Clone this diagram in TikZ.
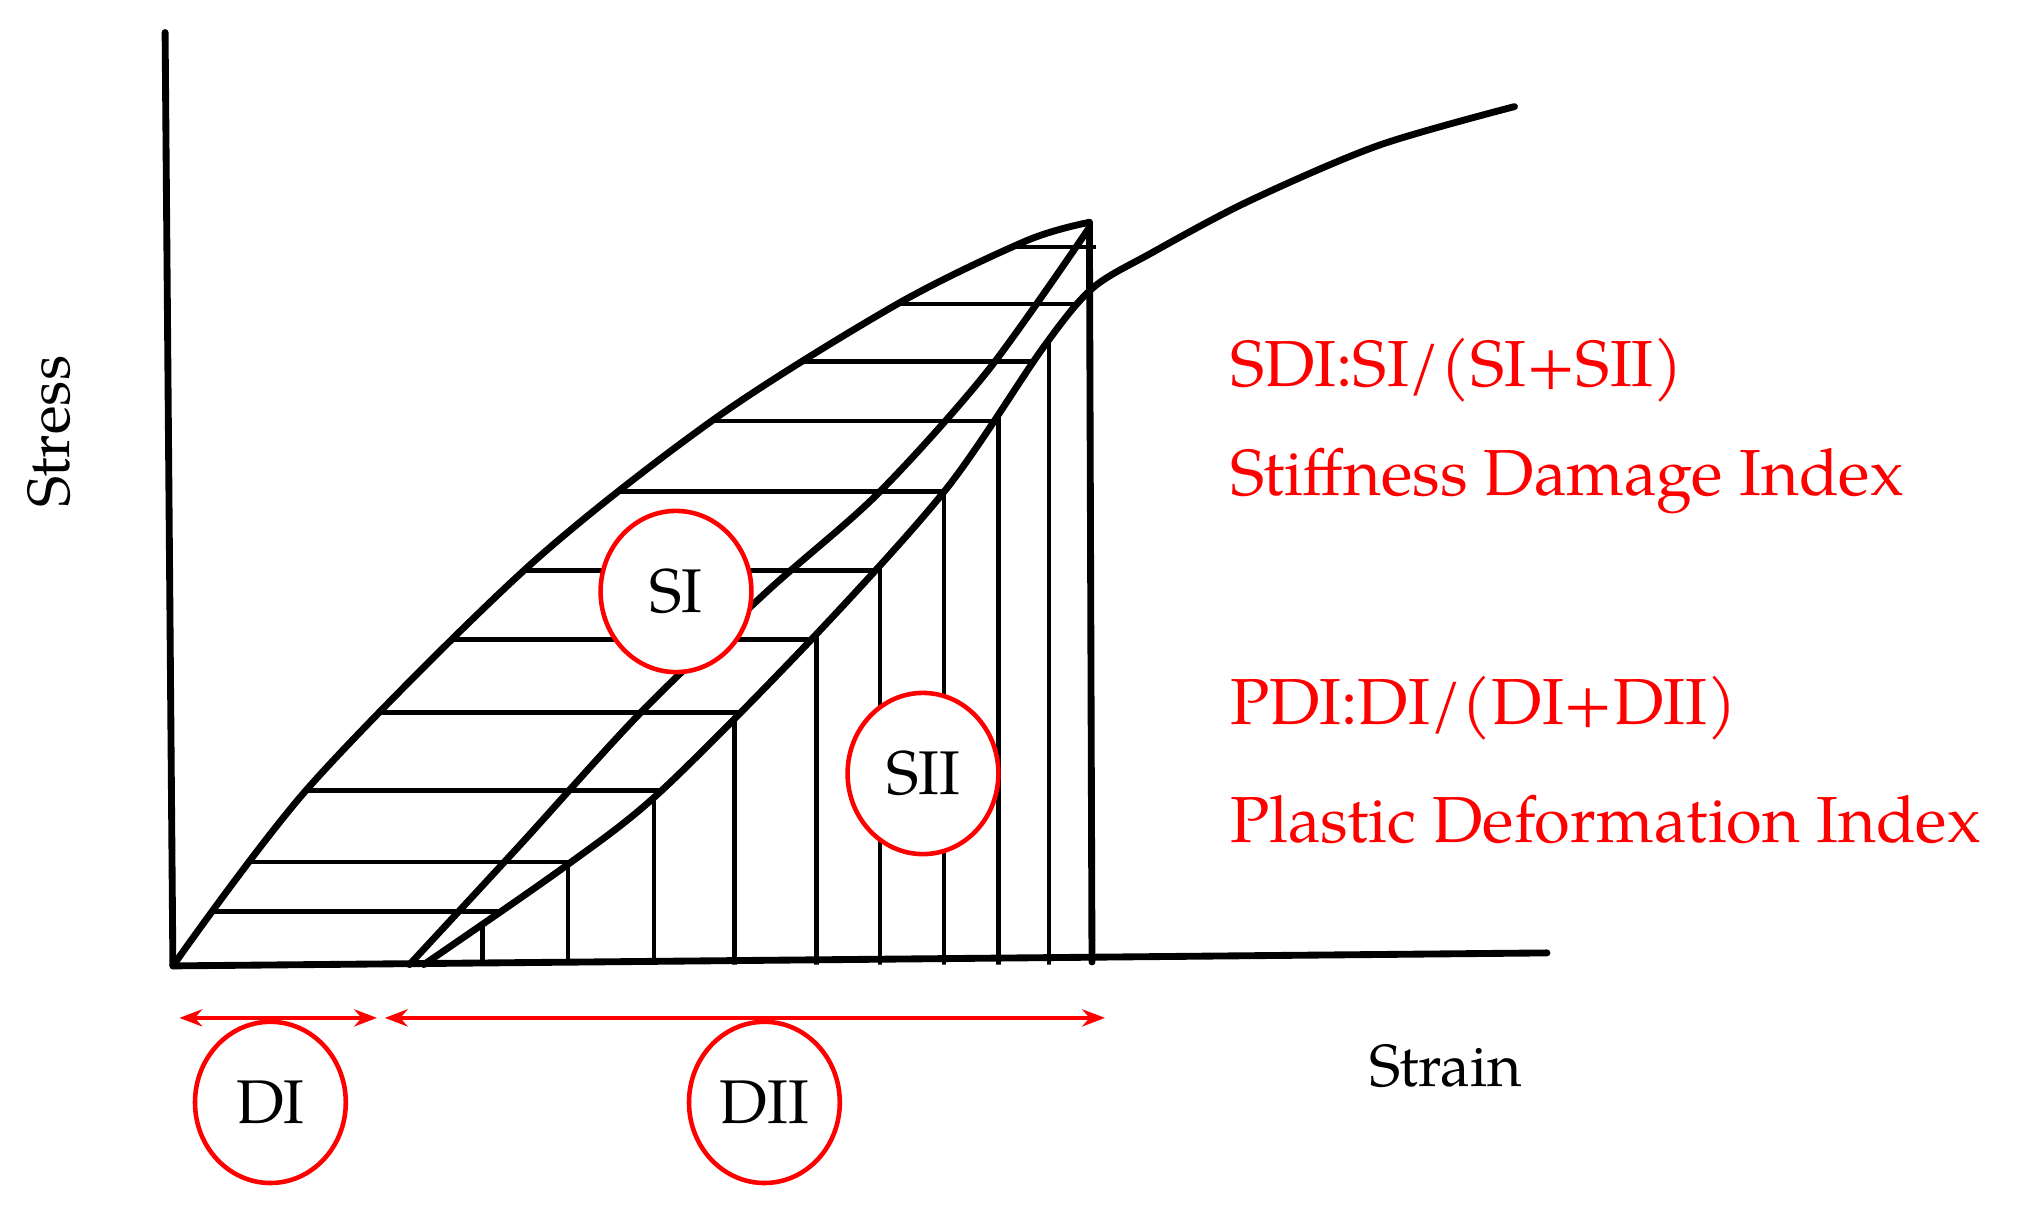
\documentclass[tikz,border=0pt]{standalone}
\usepackage{fontspec}
\setmainfont{TeX Gyre Pagella}
\usetikzlibrary{arrows.meta,shapes.geometric}
\begin{document}
\begin{tikzpicture}[x=0.02cm,y=-0.02cm,
  crv/.style={line width=3pt,line cap=round,line join=round},
  hat/.style={line width=2pt},
  rc/.style={draw=red,line width=2pt,ellipse,minimum width=116*0.02cm,minimum height=124*0.02cm,inner sep=0pt,font=\fontsize{27}{30}\selectfont},
  rt/.style={text=red,anchor=west,font=\fontsize{28.5}{30}\selectfont},
  ra/.style={draw=red,line width=2pt,{Stealth[length=10pt]}-{Stealth[length=10pt]}}]
\useasboundingbox (0,0) rectangle (1560,927);
\coordinate (o) at (133,743);
\coordinate (pk) at (838,171);
\coordinate (ul) at (315,742);
\coordinate (ll) at (326,742);
\def\outer{(133,743)(238,605)(405,437)(550,322)(690,234)(790,185)(838,171)}
\def\lower{(326,742)(434,667)(508,609)(625,491)(728,376)(802,268)(840,222)(885,195)(960,155)(1060,112)(1165,82)}
% hatch horizontal
\begin{scope}
\clip plot[smooth] coordinates {\outer} -- (843,171) -- (843,222) -- plot[smooth] coordinates {(840,222)(802,268)(728,376)(625,491)(508,609)(434,667)(326,742)} -- cycle;
\foreach \yy in {190,234,278,324,378,439,492,548,608,663,701}
  \draw[hat] (100,\yy) -- (900,\yy);
\end{scope}
% hatch vertical
\begin{scope}
\clip plot[smooth] coordinates {(326,742)(434,667)(508,609)(625,491)(728,376)(802,268)(840,222)} -- (840,742) -- cycle;
\foreach \xx in {371,437,503,565,628,677,726,768,807}
  \draw[hat] (\xx,100) -- (\xx,760);
\end{scope}
% axes
\draw[crv] (127,25) -- (o) -- (1190,733);
% curves
\draw[crv] plot[smooth] coordinates {\outer};
\draw[crv] (pk) -- (840,740);
\draw[crv] plot[smooth] coordinates {(315,742)(400,650)(493,548)(590,455)(675,380)(760,285)(838,175)};
\draw[crv] plot[smooth] coordinates {\lower};
% labels
\node[font=\fontsize{26}{30}\selectfont] (strain) at (1112,820) {Strain};
\node[font=\fontsize{26}{30}\selectfont,rotate=90] (stress) at (38,332) {Stress};
\node[rt] (t1) at (940,285) {SDI:SI/(SI+SII)};
\node[rt] (t2) at (940,370) {Stiffness Damage Index};
\node[rt] (t3) at (940,545) {PDI:DI/(DI+DII)};
\node[rt] (t4) at (940,630) {Plastic Deformation Index};
\node[rc,fill=white] (si) at (520,455) {SI};
\node[rc,fill=white] (sii) at (710,595) {SII};
\node[rc] (di) at (208,848) {DI};
\node[rc] (dii) at (588,848) {DII};
\coordinate (a1) at (138,783); \coordinate (a2) at (290,783);
\coordinate (a3) at (296,783); \coordinate (a4) at (850,783);
\draw[ra] (a1) -- (a2);
\draw[ra] (a3) -- (a4);
\end{tikzpicture}
\end{document}
